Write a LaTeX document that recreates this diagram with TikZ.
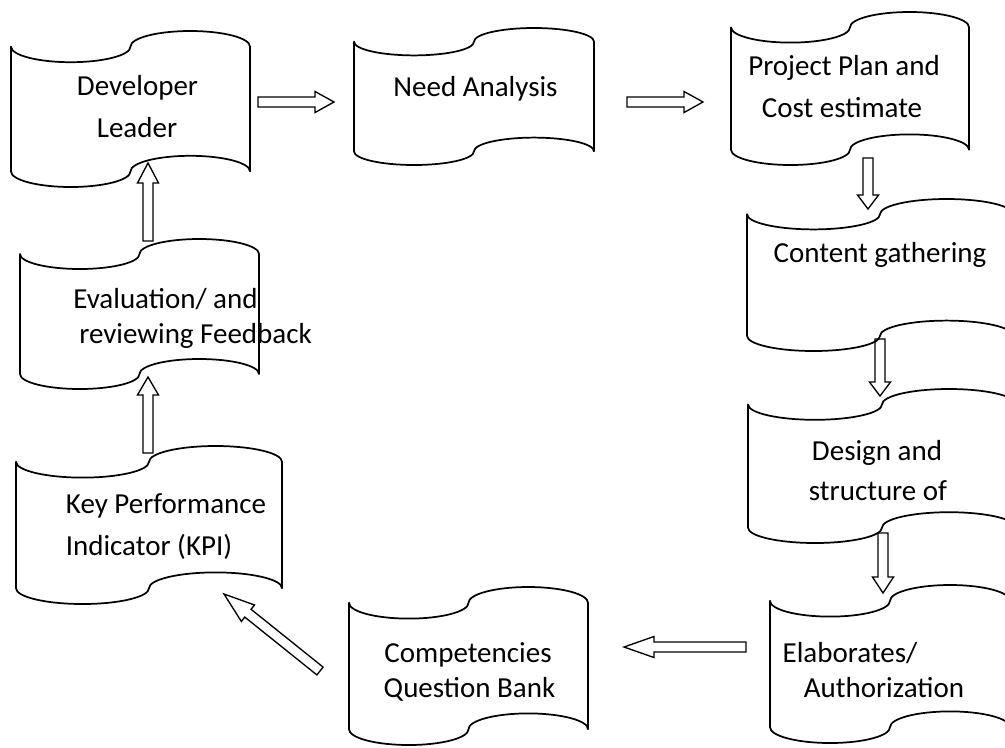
\documentclass[tikz,border=0pt]{standalone}
\usepackage{fontspec}
\setmainfont{Carlito}
\usetikzlibrary{calc}

% head length of the hollow block arrows (changed per arrow with "head len")
\newcommand\ahl{13.5pt}

\tikzset{
  tape/.style={draw=black, line width=1.3pt, line join=round},
  txt/.style={inner sep=0pt, anchor=base, font=\fontsize{21.75}{26}\selectfont},
  head len/.code={\def\ahl{#1}},
  blockarrow/.style={draw=black, line width=1pt, line join=miter,
    to path={
      ($(\tikztostart)!3.75pt!90:(\tikztotarget)$)
      -- ($(\tikztotarget)!\ahl!(\tikztostart)!3.75pt!-90:(\tikztostart)$)
      -- ($(\tikztotarget)!\ahl!(\tikztostart)!7.9pt!-90:(\tikztostart)$)
      -- (\tikztotarget)
      -- ($(\tikztotarget)!\ahl!(\tikztostart)!7.9pt!90:(\tikztostart)$)
      -- ($(\tikztotarget)!\ahl!(\tikztostart)!3.75pt!90:(\tikztostart)$)
      -- ($(\tikztostart)!3.75pt!-90:(\tikztotarget)$)
      -- cycle}}
}

% punched-tape box: name, left x, top y, width, height
\newcommand\tapebox[5]{%
  \begin{scope}[shift={(#2,#3)}, xscale=#4, yscale=#5]
    \draw[tape] (0,0.1)
      .. controls (0,0.15523) and (0.11192,0.2) .. (0.25,0.2)
      .. controls (0.38808,0.2) and (0.5,0.15523) .. (0.5,0.1)
      .. controls (0.5,0.04477) and (0.61192,0) .. (0.75,0)
      .. controls (0.88808,0) and (1,0.04477) .. (1,0.1)
      -- (1,0.9)
      .. controls (1,0.84477) and (0.88808,0.8) .. (0.75,0.8)
      .. controls (0.61192,0.8) and (0.5,0.84477) .. (0.5,0.9)
      .. controls (0.5,0.95523) and (0.38808,1) .. (0.25,1)
      .. controls (0.11192,1) and (0,0.95523) .. (0,0.9)
      -- cycle;
    \node[inner sep=0pt] (#1) at (0.5,0.5) {};
  \end{scope}}

\begin{document}
\begin{tikzpicture}[x=0.75pt, y=-0.75pt]
  \useasboundingbox (0,0) rectangle (1005,747);
  \clip (0,0) rectangle (1005,747);

  % boxes
  \tapebox{dev}{11}{31}{239}{156}
  \tapebox{need}{354}{28}{240}{137}
  \tapebox{plan}{731}{12}{238}{153}
  \tapebox{content}{747}{199}{266}{152}
  \tapebox{design}{748}{389}{268}{154}
  \tapebox{elab}{770}{585}{240}{158}
  \tapebox{comp}{349}{587}{239}{158}
  \tapebox{kpi}{16}{446}{266}{158}
  \tapebox{eval}{20}{239}{239}{150}

  % labels
  \node[txt] (dev1) at (137.5,95) {Developer};
  \node[txt] (dev2) at (137,137) {Leader};
  \node[txt] (need1) at (475.5,96) {Need Analysis};
  \node[txt] (plan1) at (844,75) {Project Plan and};
  \node[txt] (plan2) at (842,117) {Cost estimate};
  \node[txt] (content1) at (880,262) {Content gathering};
  \node[txt] (design1) at (877,460) {Design and};
  \node[txt] (design2) at (878,500) {structure of};
  \node[txt] (elab1) at (850,662) {Elaborates/};
  \node[txt] (elab2) at (884,697) {Authorization};
  \node[txt] (comp1) at (468,662) {Competencies};
  \node[txt] (comp2) at (469.5,697) {Question Bank};
  \node[txt] (kpi1) at (166,513) {Key Performance};
  \node[txt] (kpi2) at (149,555) {Indicator (KPI)};
  \node[txt] (eval1) at (165.5,308) {Evaluation/ and};
  \node[txt] (eval2) at (195.5,343) {reviewing Feedback};

  % arrow end points
  \coordinate (a1s) at (258,102);  \coordinate (a1t) at (334,102);
  \coordinate (a2s) at (627,102);  \coordinate (a2t) at (703,102);
  \coordinate (a3s) at (868,158);  \coordinate (a3t) at (868,209);
  \coordinate (a4s) at (880,339);  \coordinate (a4t) at (880,396);
  \coordinate (a5s) at (883,533);  \coordinate (a5t) at (883,593);
  \coordinate (a6s) at (746,647);  \coordinate (a6t) at (624,647);
  \coordinate (a7s) at (320,671);  \coordinate (a7t) at (224,594);
  \coordinate (a8s) at (148,453);  \coordinate (a8t) at (148,377);
  \coordinate (a9s) at (148,241);  \coordinate (a9t) at (148,163);

  % flow arrows
  \draw[blockarrow, head len=14.25pt] (a1s) to (a1t);
  \draw[blockarrow, head len=14.25pt] (a2s) to (a2t);
  \draw[blockarrow, head len=10.5pt] (a3s) to (a3t);
  \draw[blockarrow, head len=10.5pt] (a4s) to (a4t);
  \draw[blockarrow, head len=12pt] (a5s) to (a5t);
  \draw[blockarrow, head len=22.5pt] (a6s) to (a6t);
  \draw[blockarrow, head len=23pt] (a7s) to (a7t);
  \draw[blockarrow, head len=13.5pt] (a8s) to (a8t);
  \draw[blockarrow, head len=15pt] (a9s) to (a9t);
\end{tikzpicture}
\end{document}
